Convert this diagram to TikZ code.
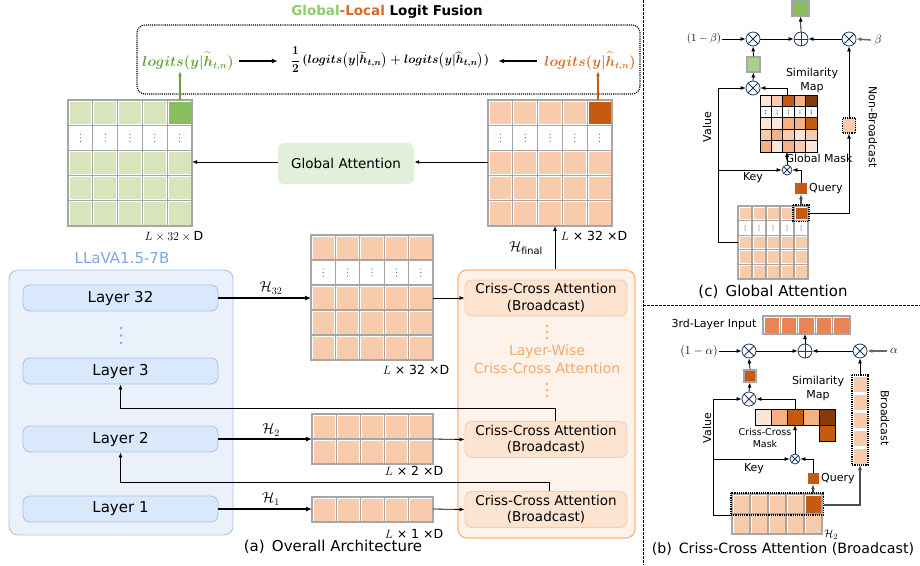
\documentclass[tikz,border=0pt]{standalone}
\usepackage{amsmath}
\usepackage{amssymb}
\usepackage{fontspec}
\setmainfont{DejaVu Sans}
\usepackage{tikz}
\usepackage{xcolor}
\usetikzlibrary{arrows.meta}

\definecolor{gridgray}{RGB}{166,166,166}
\definecolor{lightgreen}{RGB}{216,228,188}
\definecolor{darkgreen}{RGB}{137,190,95}
\definecolor{midgreen}{RGB}{169,209,142}
\definecolor{lightorange}{RGB}{248,203,173}
\definecolor{paleorange}{RGB}{251,229,214}
\definecolor{softorange}{RGB}{244,177,131}
\definecolor{darkorange}{RGB}{197,90,17}
\definecolor{brownorange}{RGB}{132,60,12}
\definecolor{midorange}{RGB}{234,132,82}
\definecolor{attnfill}{RGB}{226,239,218}
\definecolor{llavafill}{RGB}{234,241,251}
\definecolor{llavaline}{RGB}{169,196,235}
\definecolor{layerfill}{RGB}{218,232,252}
\definecolor{llavablue}{RGB}{126,166,224}
\definecolor{ccfill}{RGB}{253,243,235}
\definecolor{ccline}{RGB}{248,181,125}
\definecolor{ccinner}{RGB}{252,228,208}
\definecolor{ccinnerline}{RGB}{249,203,163}
\definecolor{cctext}{RGB}{245,168,106}
\definecolor{fusegreen}{RGB}{106,160,60}
\definecolor{fuseorange}{RGB}{214,108,38}
\definecolor{titlegreen}{RGB}{140,205,105}
\definecolor{opline}{RGB}{31,56,100}

% one cell: gray frame, coloured inset
\newcommand{\onecell}[6][gridcell]{%
  \draw[#1] ({#2},{#3}) rectangle ++({#4},{#5});
  \fill[#6] ({#2+1.5},{#3+1.5}) rectangle ++({#4-3},{#5-3});}
% a row of cells: x, y, width, height, count, fill
\newcommand{\cellrow}[6]{%
  \foreach \k in {1,...,#5}{\onecell{#1+(\k-1)*#3}{#2}{#3}{#4}{#6}}}
% a row of empty cells with vertical dots
\newcommand{\dotcells}[6][gridcell]{%
  \foreach \k in {1,...,#6}{%
    \draw[#1] ({#2+(\k-1)*#4},{#3}) rectangle ++({#4},{#5});
    \foreach \d in {-1,0,1}
      \fill[black!65] ({#2+(\k-0.5)*#4},{#3+#5/2+\d*#5/7}) circle (0.6);
  }}

\begin{document}
\begin{tikzpicture}[x=1pt,y=-1pt,
  gridcell/.style={draw=gridgray,line width=1.1pt},
  mapcell/.style={draw=black,line width=0.9pt},
  link/.style={-{Latex[length=5pt,width=4pt]},line width=0.8pt},
  flow/.style={-{Latex[length=6pt,width=5pt]},line width=1.5pt},
  llavabox/.style={draw=llavaline,fill=llavafill,line width=0.9pt,rounded corners=9pt,minimum width=224pt,minimum height=265pt},
  layerbox/.style={draw=llavaline,fill=layerfill,line width=0.9pt,rounded corners=7pt,minimum width=195pt,minimum height=26pt,font=\fontsize{15}{17}\selectfont},
  ccouter/.style={draw=ccline,fill=ccfill,line width=1.2pt,rounded corners=9pt,minimum width=177pt,minimum height=268pt},
  ccunit/.style={draw=ccinnerline,fill=ccinner,line width=0.9pt,rounded corners=7pt,minimum width=162pt,minimum height=36pt,align=center,inner sep=1pt,font=\fontsize{13.5}{16.5}\selectfont},
  attnbox/.style={fill=attnfill,rounded corners=6pt,minimum width=136pt,minimum height=41pt,font=\fontsize{13.5}{15}\selectfont},
  fusebox/.style={draw=black,densely dotted,line width=1.1pt,rounded corners=8pt,minimum width=503pt,minimum height=69pt},
  logitnote/.style={font=\boldmath\fontsize{13.5}{16}\selectfont,inner sep=1pt},
  dimlabel/.style={font=\fontsize{12.5}{14}\selectfont,inner sep=1pt},
  hlabel/.style={font=\fontsize{14}{16}\selectfont,inner sep=1pt},
  caption/.style={font=\fontsize{15}{17}\selectfont,inner sep=1pt},
  smalltext/.style={font=\fontsize{11}{14}\selectfont,inner sep=1pt,align=center},
  opnote/.style={font=\fontsize{11}{13}\selectfont,inner sep=1pt},
  otimesnode/.style={circle,draw=opline,fill=white,line width=0.8pt,minimum size=14pt,inner sep=0pt,
    path picture={\draw[opline,line width=0.8pt]
      (path picture bounding box.north west) -- (path picture bounding box.south east)
      (path picture bounding box.north east) -- (path picture bounding box.south west);}},
  oplusnode/.style={circle,draw=opline,fill=white,line width=0.8pt,minimum size=14pt,inner sep=0pt,
    path picture={\draw[opline,line width=0.8pt]
      (path picture bounding box.north) -- (path picture bounding box.south)
      (path picture bounding box.west) -- (path picture bounding box.east);}},
  smallcell/.style={draw=gridgray,line width=1.1pt,inner sep=0pt},
  dottedframe/.style={draw=black,densely dotted,line width=1.2pt},
  sepline/.style={draw=black,dash pattern=on 2.5pt off 1.5pt,line width=0.7pt},
]
\useasboundingbox (0,0) rectangle (920,565);

% separators between the three panels
\draw[sepline] (643,0) -- (643,565);
\draw[sepline] (643,305) -- (920,305);

%% (a) logit fusion on top
\node[font=\bfseries\fontsize{13.5}{16}\selectfont] (fusiontitle) at (387,12)
  {\textcolor{titlegreen}{Global}\textcolor{fuseorange}{-Local} Logit Fusion};
\node[fusebox] (fusion) at (388.5,59.5) {};
\node[logitnote,text=fusegreen] (glogit) at (188,61) {$logits(y|\widetilde{h}_{t,n})$};
\node[logitnote,font=\boldmath\fontsize{13}{16}\selectfont] (fmid) at (390,60)
  {$\dfrac{1}{2}\,(logits\bigl(y|\widetilde{h}_{t,n}\bigr)+logits\bigl(y|\widehat{h}_{t,n}\bigr))$};
\node[logitnote,text=fuseorange] (llogit) at (590,61) {$logits(y|\widehat{h}_{t,n})$};
\draw[flow,shorten <=4pt,shorten >=12pt] (glogit.east) -- (glogit.east -| fmid.west);
\draw[flow,shorten <=6pt,shorten >=8pt] (llogit.west) -- (llogit.west -| fmid.east);

%% global (left) and local (right) feature grids
\cellrow{68}{100}{24.8}{25.2}{4}{lightgreen}
\onecell{167.2}{100}{24.8}{25.2}{darkgreen}
\dotcells{68}{125.2}{24.8}{25.2}{5}
\foreach \r in {150.4,175.6,200.8} {\cellrow{68}{\r}{24.8}{25.2}{5}{lightgreen}}
\cellrow{488}{100}{24.8}{25.2}{4}{lightorange}
\onecell{587.2}{100}{24.8}{25.2}{darkorange}
\dotcells{488}{125.2}{24.8}{25.2}{5}
\foreach \r in {150.4,175.6,200.8} {\cellrow{488}{\r}{24.8}{25.2}{5}{lightorange}}
\coordinate (glbtop) at (180,100);
\coordinate (glbeast) at (192,162);
\coordinate (outtop) at (598,100);
\coordinate (outwest) at (488,162);
\coordinate (outbot) at (555,226);
\node[dimlabel] (glbdim) at (174,236) {$L\times 32\times\mathrm{D}$};
\node[dimlabel] (outdim) at (594,236) {$L$ × 32 ×D};
\node[attnbox] (gattn) at (346,163.5) {Global Attention};
\draw[link,line width=1pt] (outwest) -- (outwest -| gattn.east);
\draw[link,line width=1pt] (gattn.west |- glbeast) -- (glbeast);
\draw[link,fusegreen,line width=1.2pt] (glbtop) -- (glbtop |- glogit.south);
\draw[link,darkorange,line width=1.2pt] (outtop) -- (outtop |- llogit.south);

%% LLaVA backbone
\node[font=\fontsize{15}{17}\selectfont,text=llavablue] (llavatitle) at (122,258) {LLaVA1.5-7B};
\node[llavabox] (llava) at (121,402.5) {};
\node[layerbox] (layer32) at (120.5,298) {Layer 32};
\node[layerbox] (layer3) at (120.5,371) {Layer 3};
\node[layerbox] (layer2) at (120.5,439) {Layer 2};
\node[layerbox] (layer1) at (120.5,509) {Layer 1};
\foreach \d in {-7.5,0,7.5} \fill[llavablue] (121,{335.5+\d}) circle (1.4);

%% hidden states per layer
\cellrow{311}{235}{24.4}{25}{5}{lightorange}
\dotcells{311}{260}{24.4}{25}{5}
\foreach \r in {285,310,335} {\cellrow{311}{\r}{24.4}{25}{5}{lightorange}}
\cellrow{312}{414}{24.2}{25}{5}{lightorange}
\cellrow{312}{439}{24.2}{25}{5}{lightorange}
\cellrow{312}{497}{24.2}{25}{5}{lightorange}
\coordinate (h32w) at (311,298);
\coordinate (h32e) at (433,298);
\coordinate (h2w) at (312,439);
\coordinate (h2e) at (433,439);
\coordinate (h1w) at (312,509);
\coordinate (h1e) at (433,509);
\node[dimlabel] (h32dim) at (416,370) {$L$ × 32 ×D};
\node[dimlabel] (h2dim) at (414,471) {$L$ × 2 ×D};
\node[dimlabel] (h1dim) at (414,534) {$L$ × 1 ×D};

%% layer-wise criss-cross attention
\node[ccouter] (ccall) at (546.5,404) {};
\node[ccunit] (cca32) at (546,298) {Criss-Cross Attention\\(Broadcast)};
\node[ccunit] (cca2) at (546,439.5) {Criss-Cross Attention\\(Broadcast)};
\node[ccunit] (cca1) at (546,509.5) {Criss-Cross Attention\\(Broadcast)};
\node[font=\fontsize{14}{18}\selectfont,text=cctext,align=center] (ccname) at (547,359)
  {Layer-Wise\\Criss-Cross Attention};
\foreach \d in {-6,0,6} {
  \fill[cctext] (547,{332+\d}) circle (1.3);
  \fill[cctext] (547,{390+\d}) circle (1.3);
}

\draw[flow] (layer32.east) -- (h32w);
\draw[flow] (layer2.east) -- (h2w);
\draw[flow] (layer1.east) -- (h1w);
\node[hlabel] (h32lab) at (271,288) {$\mathcal{H}_{32}$};
\node[hlabel] (h2lab) at (271,430) {$\mathcal{H}_{2}$};
\node[hlabel] (h1lab) at (271,499) {$\mathcal{H}_{1}$};
\draw[link] (h32e) -- (cca32.west);
\draw[link] (h2e) -- (cca2.west);
\draw[link] (h1e) -- (cca1.west);
\draw[link] (cca2.north -| 555,0) -- (555,408) -| (layer3.south);
\draw[link] (cca1.north -| 549,0) -- (549,482) -| (layer2.south);
\draw[link,line width=1pt] (ccall.north -| outbot) -- (outbot);
\node[hlabel] (hfinal) at (526,248) {$\mathcal{H}_{\mathrm{final}}$};
\node[caption] (capa) at (333,547) {(a)\, Overall Architecture};

%% (c) global attention
\node[otimesnode] (gam1) at (753,39) {};
\node[oplusnode] (gaadd) at (801,39) {};
\node[otimesnode] (gam2) at (849,39) {};
\node[otimesnode] (gam3) at (753,88) {};
\node[otimesnode,minimum size=10pt] (gam4) at (787,170) {};
\node[opnote] (gabetal) at (704,39) {$(1-\beta)$};
\node[font=\fontsize{13}{15}\selectfont] (gabeta) at (878,40) {$\beta$};
\node[smallcell,fill=darkgreen,minimum width=17pt,minimum height=16pt] (gaout) at (800.5,8) {};
\node[smallcell,fill=midgreen,minimum width=13pt,minimum height=15pt] (gamid) at (753.5,64.5) {};
\node[fill=darkorange,inner sep=0pt,minimum width=12pt,minimum height=11pt] (gaquery) at (801,188.5) {};
\node[dottedframe,fill=lightorange,inner sep=0pt,minimum width=13pt,minimum height=15pt] (ganb) at (849,125.5) {};

% similarity map
\foreach \c [count=\k] in {paleorange,lightorange,darkorange,softorange,brownorange}
  \draw[mapcell,fill=\c] ({760+(\k-1)*11.4},95) rectangle ++(11.4,11.4);
\dotcells[mapcell]{760}{106.4}{11.4}{11.4}{5}
\foreach \c [count=\k] in {paleorange,paleorange,softorange,softorange,darkorange}
  \draw[mapcell,fill=\c] ({760+(\k-1)*11.4},117.8) rectangle ++(11.4,11.4);
\foreach \c [count=\k] in {lightorange,softorange,lightorange,paleorange,lightorange}
  \draw[mapcell,fill=\c] ({760+(\k-1)*11.4},129.2) rectangle ++(11.4,11.4);
\foreach \c [count=\k] in {softorange,paleorange,softorange,lightorange,paleorange}
  \draw[mapcell,fill=\c] ({760+(\k-1)*11.4},140.6) rectangle ++(11.4,11.4);
\coordinate (gamaptop) at (787,95);
\coordinate (gamapbot) at (787,152);

% input grid
\cellrow{738}{206}{14}{14.6}{4}{lightorange}
\onecell{794}{206}{14}{14.6}{darkorange}
\dotcells{738}{220.6}{14}{14.6}{5}
\foreach \r in {235.2,249.8,264.4} {\cellrow{738}{\r}{14}{14.6}{5}{lightorange}}
\draw[dottedframe] (793,205) rectangle (809,221.6);
\coordinate (gadark) at (801,205);
\coordinate (gadarke) at (809,213);
\coordinate (gagridw) at (738,242);
\coordinate (gavalue) at (718,242);
\coordinate (gakey) at (718,170);

\draw[link] (gabetal.east) -- (gam1.west);
\draw[link] (gam1.east) -- (gaadd.west);
\draw[link] (gam2.west) -- (gaadd.east);
\draw[link,draw=black!60,line width=1.4pt] (gabeta.west) -- (gam2.east);
\draw[link] (gaadd.north) -- (gaout.south);
\draw[link] (gamid.north) -- (gam1.south);
\draw[link] (gam3.north) -- (gamid.south);
\draw[link] (gagridw) -- (gavalue) |- (gam3.west);
\draw[link] (gamaptop) |- (gam3.east);
\draw[link] (gam4.north) -- (gamapbot);
\draw[link] (gakey) -- (gam4.west);
\draw[link] (gaquery.north) |- (gam4.east);
\draw[link,draw=black!70,line width=1.2pt] (gadark) -- (gaquery.south);
\draw[link] (gadarke) -| (ganb.south);
\draw[link] (ganb.north) -- (gam2.south);

\node[smalltext] (gasim) at (812,80) {Similarity\\Map};
\node[smalltext] (gamask) at (819,158) {Global Mask};
\node[smalltext,rotate=90] (gavaltext) at (707,127) {Value};
\node[smalltext] (gakeytext) at (753,178) {Key};
\node[smalltext,anchor=west] (gaqtext) at (808,188.5) {Query};
\node[smalltext,rotate=-90] (ganbtext) at (873,127) {Non-Broadcast};
\node[caption] (capc) at (773,292) {(c)\, Global Attention};

%% (b) criss-cross attention
\node[otimesnode] (ccm1) at (749,351) {};
\node[oplusnode] (ccadd) at (805,351) {};
\node[otimesnode] (ccm2) at (860,351) {};
\node[otimesnode] (ccm3) at (749,399) {};
\node[otimesnode,minimum size=10pt] (ccm4) at (795,459) {};
\node[font=\fontsize{13}{15}\selectfont,inner sep=1pt] (ccalphal) at (699,351) {$(1-\alpha)$};
\node[font=\fontsize{13}{15}\selectfont] (ccalpha) at (894,351) {$\alpha$};
\node[smallcell,fill=darkorange,minimum width=12pt,minimum height=12pt] (ccmid) at (750,376) {};
\node[fill=darkorange,inner sep=0pt,minimum width=11pt,minimum height=11pt] (ccquery) at (813,478.5) {};

\node[smalltext] (ccinputtext) at (714,324) {3rd-Layer Input};
\cellrow{763}{316}{17.4}{18}{5}{midorange}
\coordinate (ccinbot) at (805,334);

\foreach \c [count=\k] in {paleorange,softorange,darkorange,softorange,brownorange}
  \draw[mapcell,fill=\c] ({755+(\k-1)*16},409) rectangle ++(16,16);
\draw[mapcell,fill=darkorange] (819,425) rectangle ++(16,16);
\coordinate (ccmaptop) at (795,409);
\coordinate (ccmapbot) at (795,425);

% broadcast column
\foreach \k in {0,...,4}
  \fill[lightorange] (853.5,{376.5+\k*18}) rectangle ++(13,15);
\draw[dottedframe] (852,375) rectangle (868,465);
\coordinate (ccbctop) at (860,375);
\coordinate (ccbcbot) at (860,465);

% second-layer hidden states
\cellrow{732}{494}{18}{20}{4}{lightorange}
\onecell{804}{494}{18}{20}{darkorange}
\cellrow{732}{514}{18}{20}{5}{lightorange}
\draw[dottedframe] (731,493) rectangle (823.5,515);
\coordinate (ccdark) at (813,493);
\coordinate (ccrowe) at (823.5,505);
\coordinate (ccgridw) at (732,515);
\coordinate (ccvalue) at (713,515);
\coordinate (cckey) at (713,459);

\draw[link] (ccalphal.east) -- (ccm1.west);
\draw[link] (ccm1.east) -- (ccadd.west);
\draw[link] (ccm2.west) -- (ccadd.east);
\draw[link,draw=black!60,line width=1.4pt] (ccalpha.west) -- (ccm2.east);
\draw[link] (ccadd.north) -- (ccinbot);
\draw[link] (ccmid.north) -- (ccm1.south);
\draw[link] (ccm3.north) -- (ccmid.south);
\draw[link] (ccgridw) -- (ccvalue) |- (ccm3.west);
\draw[link] (ccmaptop) |- (ccm3.east);
\draw[link] (ccm4.north) -- (ccmapbot);
\draw[link] (cckey) -- (ccm4.west);
\draw[link] (ccquery.north) |- (ccm4.east);
\draw[link,draw=black!70,line width=1.2pt] (ccdark) -- (ccquery.south);
\draw[link,draw=black!70,line width=1.2pt] (ccrowe) -| (ccbcbot);
\draw[link] (ccbctop) -- (ccm2.south);

\node[smalltext] (ccsim) at (818,388) {Similarity\\Map};
\node[smalltext,font=\fontsize{9.5}{12.5}\selectfont] (ccmask) at (765,438) {Criss-Cross\\Mask};
\node[smalltext,rotate=90] (ccvaltext) at (707,428) {Value};
\node[smalltext] (cckeytext) at (754,469) {Key};
\node[smalltext,anchor=west] (ccqtext) at (820,479) {Query};
\node[smalltext,rotate=-90] (ccbctext) at (885,418) {Broadcast};
\node[font=\fontsize{11}{13}\selectfont,inner sep=1pt] (cch2) at (831,535) {$\mathcal{H}_{2}$};
\node[caption,font=\fontsize{14.2}{17}\selectfont] (capb) at (783,549) {(b)\, Criss-Cross Attention (Broadcast)};
\end{tikzpicture}
\end{document}
